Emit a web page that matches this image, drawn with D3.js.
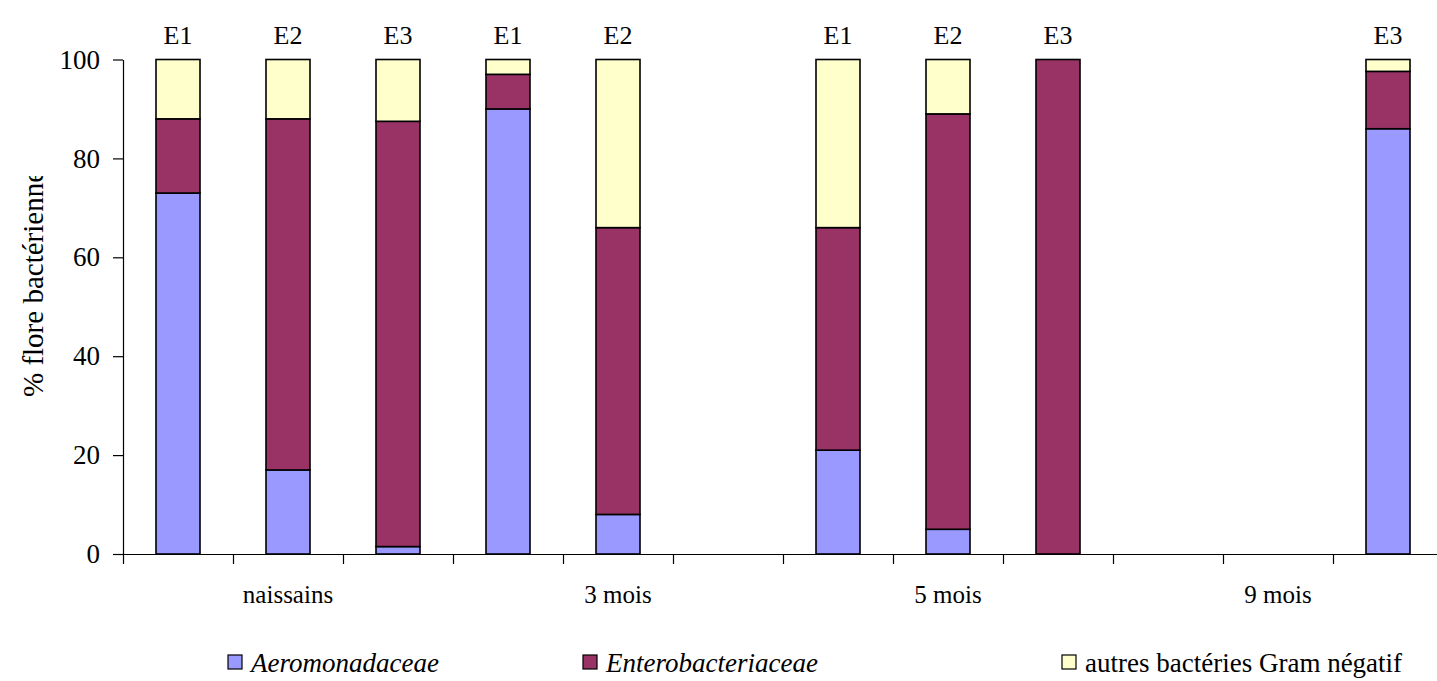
<!DOCTYPE html>
<html>
<head>
<meta charset="utf-8">
<script src="https://cdn.jsdelivr.net/npm/d3@7"></script>
<style>
  html, body { margin: 0; padding: 0; background: #fff; overflow: hidden; }
  svg text { font-family: "Liberation Serif", "Times New Roman", serif; }
</style>
</head>
<body>
<svg id="chart" width="1437" height="681"></svg>
<script>
// ---- data ----
const groups = ["naissains", "3 mois", "5 mois", "9 mois"];
const slotLabels = ["E1", "E2", "E3", "E1", "E2", null, "E1", "E2", "E3", null, null, "E3"];
const aeromonadaceae     = [73, 17, 1.5, 90, 8, null, 21, 5, 0, null, null, 86];
const enterobacteriaceae = [15, 71, 86, 7, 58, null, 45, 84, 100, null, null, 11.6];
const autres             = [12, 12, 12.5, 3, 34, null, 34, 11, 0, null, null, 2.4];
const seriesNames = ["Aeromonadaceae", "Enterobacteriaceae", "autres bactéries Gram négatif"];
const seriesItalic = [true, true, false];
const yTicks = [0, 20, 40, 60, 80, 100];
const yTitle = "% flore bactérienne";

const colors = ["#9999FF", "#993366", "#FFFFCC"];
const FONT = "Liberation Serif";

const svg = d3.select("#chart");
svg.append("rect").attr("width", 1437).attr("height", 681).attr("fill", "#fff");

const nSlots = slotLabels.length;
const xb = d3.scaleLinear().domain([0, nSlots]).range([123, 1443]);
const y = d3.scaleLinear().domain([0, 100]).range([554, 59.5]);

// stacked data
const rows = slotLabels.map((lab, i) => ({
  i, lab,
  a: aeromonadaceae[i], e: enterobacteriaceae[i], o: autres[i]
})).filter(d => d.lab !== null);
const stacked = d3.stack().keys(["a", "e", "o"])(rows);

const barW = xb(0.4) - xb(0);

const gBars = svg.append("g");
stacked.forEach((layer, k) => {
  gBars.selectAll(null)
    .data(layer.filter(d => d[1] - d[0] > 0))
    .enter().append("rect")
    .attr("x", d => xb(d.data.i + 0.3))
    .attr("width", barW)
    .attr("y", d => y(d[1]))
    .attr("height", d => y(d[0]) - y(d[1]))
    .attr("fill", colors[k])
    .attr("stroke", "#000")
    .attr("stroke-width", 1.6);
});

// top labels
svg.append("g").selectAll("text")
  .data(rows)
  .enter().append("text")
  .attr("x", d => xb(d.i + 0.5))
  .attr("y", 44)
  .attr("text-anchor", "middle")
  .attr("font-family", FONT)
  .attr("font-size", 26)
  .attr("fill", "#000")
  .text(d => d.lab);

// y axis
const yAxis = d3.axisLeft(y).tickValues(yTicks).tickSize(10).tickSizeOuter(0).tickPadding(13);
const gy = svg.append("g").attr("transform", "translate(123,0)").call(yAxis);
gy.attr("font-family", FONT).attr("font-size", 27);
gy.selectAll("text").attr("font-family", FONT).attr("font-size", 27).attr("fill", "#000");
gy.selectAll("line, path").attr("stroke", "#000").attr("stroke-width", 1.2);

// x axis
const xAxis = d3.axisBottom(xb).tickValues(d3.range(nSlots + 1)).tickFormat("").tickSize(10).tickSizeOuter(0);
const gx = svg.append("g").attr("transform", "translate(0,554)").call(xAxis);
gx.selectAll("line, path").attr("stroke", "#000").attr("stroke-width", 1.2);

// group labels
svg.append("g").selectAll("text")
  .data(groups)
  .enter().append("text")
  .attr("x", (d, i) => xb(i * 3 + 1.5))
  .attr("y", 603)
  .attr("text-anchor", "middle")
  .attr("font-family", FONT)
  .attr("font-size", 25)
  .attr("fill", "#000")
  .text(d => d);

// y title (clipped like the original)
svg.append("clipPath").attr("id", "ttlclip")
  .append("rect").attr("x", 0).attr("y", 176).attr("width", 60).attr("height", 300);
svg.append("g").attr("clip-path", "url(#ttlclip)")
  .append("text")
  .attr("transform", "translate(43,397) rotate(-90)")
  .attr("text-anchor", "start")
  .attr("font-family", FONT)
  .attr("font-size", 29)
  .attr("fill", "#000")
  .text(yTitle);

// legend
const legX = [228, 583, 1062];
const lg = svg.append("g");
seriesNames.forEach((name, k) => {
  lg.append("rect")
    .attr("x", legX[k]).attr("y", 655).attr("width", 14).attr("height", 14)
    .attr("fill", colors[k]).attr("stroke", "#000").attr("stroke-width", 1.2);
  lg.append("text")
    .attr("x", legX[k] + 23).attr("y", 672)
    .attr("font-family", FONT)
    .attr("font-size", 27)
    .attr("font-style", seriesItalic[k] ? "italic" : "normal")
    .attr("fill", "#000")
    .text(name);
});
</script>
</body>
</html>
